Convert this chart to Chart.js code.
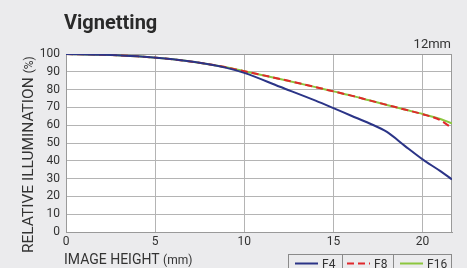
<!DOCTYPE html>
<html>
<head>
<meta charset="utf-8">
<script src="https://cdn.jsdelivr.net/npm/chart.js@4"></script>
<style>
  html, body { margin: 0; padding: 0; background: #ebebed; }
  #wrap { width: 467px; height: 268px; position: relative; }
</style>
</head>
<body>
<div id="wrap"><canvas id="chart" width="467" height="268"></canvas></div>
<script>
// image height in mm
const imageHeight = [0, 2, 4, 6, 8, 9, 10, 12, 14, 15, 16, 17, 18, 19, 20, 21, 21.65];

// relative illumination (%)
const f4Values = [100, 99.6, 98.7, 97, 94.2, 92.2, 89.4, 81.6, 73.8, 69.6, 65.3, 61.1, 56.2, 48.4, 40.8, 34.2, 29.5];
const f8Values = [100, 99.6, 98.7, 97, 94.3, 92.5, 90.3, 86, 81.4, 79, 76.6, 74, 71.4, 68.8, 66.2, 62.8, 58.3];
const f16Values = [100, 99.6, 98.7, 97, 94.3, 92.5, 90.3, 86, 81.4, 79, 76.6, 74, 71.4, 68.8, 66.3, 63.5, 61];

const seriesLabels = ["F4", "F8", "F16"];
const xTicks = [0, 5, 10, 15, 20];
const xMax = 21.65;

const FONT = "Roboto, 'DejaVu Sans', sans-serif";
const toPoints = (vals) => vals.map((v, i) => ({ x: imageHeight[i], y: v }));

const decorPlugin = {
  id: "decor",
  beforeDraw(chart) {
    const { ctx, chartArea: a } = chart;
    ctx.save();
    ctx.fillStyle = "#ebebed";
    ctx.fillRect(0, 0, chart.width, chart.height);
    ctx.fillStyle = "#ffffff";
    ctx.fillRect(a.left, a.top, a.right - a.left, a.bottom - a.top);
    ctx.restore();
  },
  beforeDatasetsDraw(chart) {
    const { ctx, chartArea: a } = chart;
    ctx.save();
    ctx.strokeStyle = "#9a9a9a";
    ctx.lineWidth = 1;
    ctx.strokeRect(Math.round(a.left) + 0.5, Math.round(a.top) + 0.5,
      Math.round(a.right - a.left) - 1, Math.round(a.bottom - a.top));
    ctx.restore();
  },
  afterDraw(chart) {
    const { ctx } = chart;
    ctx.save();
    ctx.fillStyle = "#2a2a2a";
    ctx.textBaseline = "alphabetic";

    // title
    ctx.font = "bold 20px " + FONT;
    ctx.fillText("Vignetting", 64, 29);

    // focal length
    ctx.font = "13px " + FONT;
    ctx.textAlign = "right";
    ctx.fillStyle = "#333";
    ctx.fillText("12mm", 451, 48);
    ctx.textAlign = "left";

    // x axis title
    ctx.font = "14px " + FONT;
    ctx.fillText("IMAGE HEIGHT", 64, 264);
    let w = ctx.measureText("IMAGE HEIGHT ").width;
    ctx.font = "12px " + FONT;
    ctx.fillText("(mm)", 64 + w, 264);

    // y axis title
    ctx.translate(33, 253);
    ctx.rotate(-Math.PI / 2);
    ctx.font = "15.5px " + FONT;
    ctx.fillText("RELATIVE ILLUMINATION", 0, 0);
    w = ctx.measureText("RELATIVE ILLUMINATION ").width;
    ctx.font = "12px " + FONT;
    ctx.fillText("(%)", w, 0);
    ctx.setTransform(1, 0, 0, 1, 0, 0);

    // legend
    const box = { left: 288.5, top: 254.5, right: 451.5 };
    const cells = [288.5, 342.5, 393.5, 451.5];
    ctx.strokeStyle = "#8a8a8a";
    ctx.lineWidth = 1;
    ctx.strokeRect(box.left, box.top, box.right - box.left, 30);
    ctx.beginPath();
    ctx.moveTo(cells[1], box.top); ctx.lineTo(cells[1], 268);
    ctx.moveTo(cells[2], box.top); ctx.lineTo(cells[2], 268);
    ctx.stroke();
    const sampleStart = [295, 347, 400];
    chart.data.datasets.forEach((ds, i) => {
      const sx = sampleStart[i];
      ctx.strokeStyle = ds.borderColor;
      ctx.lineWidth = 2;
      ctx.setLineDash(ds.borderDash || []);
      ctx.beginPath();
      ctx.moveTo(sx, 263.5);
      ctx.lineTo(sx + 23, 263.5);
      ctx.stroke();
      ctx.setLineDash([]);
      ctx.fillStyle = "#333";
      ctx.font = "12px " + FONT;
      ctx.fillText(ds.label, sx + 27, 268);
    });
    ctx.restore();
  },
};

new Chart(document.getElementById("chart"), {
  type: "line",
  data: {
    datasets: [
      {
        label: seriesLabels[0],
        data: toPoints(f4Values),
        borderColor: "#2b3487",
        borderWidth: 2,
      },
      {
        label: seriesLabels[1],
        data: toPoints(f8Values),
        borderColor: "#e0282c",
        borderWidth: 2,
        borderDash: [7, 4],
      },
      {
        label: seriesLabels[2],
        data: toPoints(f16Values),
        borderColor: "#8cc63e",
        borderWidth: 2,
      },
    ],
  },
  options: {
    responsive: false,
    animation: false,
    events: [],
    elements: {
      point: { radius: 0 },
      line: { cubicInterpolationMode: "monotone", fill: false },
    },
    layout: { padding: { left: 0, top: 54, right: 15, bottom: 0 } },
    plugins: { legend: { display: false }, tooltip: { enabled: false } },
    scales: {
      x: {
        type: "linear",
        min: 0,
        max: xMax,
        afterFit: (s) => { s.height = 36; },
        afterBuildTicks: (s) => { s.ticks = xTicks.map((v) => ({ value: v })); },
        ticks: {
          padding: 3,
          color: "#333",
          font: { family: FONT, size: 12 },
        },
        grid: { color: "#b4b4b4", drawTicks: false },
        border: { color: "#9a9a9a" },
      },
      y: {
        min: 0,
        max: 100,
        afterFit: (s) => { s.width = 66; },
        ticks: {
          stepSize: 10,
          padding: 6,
          color: "#333",
          font: { family: FONT, size: 12 },
        },
        grid: { color: "#b4b4b4", drawTicks: false },
        border: { color: "#9a9a9a" },
      },
    },
  },
  plugins: [decorPlugin],
});
</script>
</body>
</html>
